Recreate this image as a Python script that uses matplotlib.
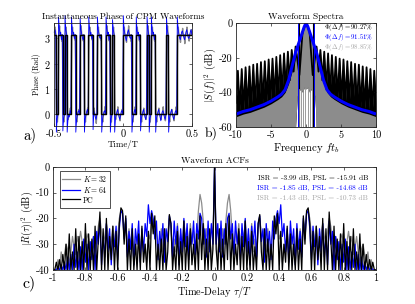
import numpy as np
import matplotlib
matplotlib.use('Agg')
import matplotlib.pyplot as plt

plt.rcParams['font.family'] = 'serif'
plt.rcParams['font.serif'] = ['cmr10', 'DejaVu Serif']
plt.rcParams['mathtext.fontset'] = 'cm'
plt.rcParams['axes.unicode_minus'] = False
plt.rcParams['axes.formatter.use_mathtext'] = True

# ---------------- a) instantaneous phase ----------------
# PC chip values (1 -> pi, 0 -> 0), 64 chips over [-T/2, T/2]
chips = [1, 0, 1, 1, 0, 1, 0, 0, 1, 1, 0, 0, 1, 1, 0, 0,
         1, 1, 0, 0, 1, 1, 0, 0, 1, 1, 0, 1, 0, 0, 0, 0,
         1, 1, 1, 1, 0, 0, 1, 1, 0, 0, 0, 1, 0, 1, 1, 0,
         0, 0, 0, 0, 1, 0, 0, 0, 0, 1, 1, 1, 1, 1, 1, 1]
# ripple of the K=32 (gray) CPM phase in each chip (rad)
gray_rip = [0.3, -0.3, 0.35, -0.25, -0.3, 0.3, -0.2, 0.25, 0.3, -0.2, -0.3, 0.2, 0.35, -0.25, -0.3, 0.25,
            0.3, -0.2, 0.25, -0.35, 0.3, -0.2, -0.3, 0.3, 0.35, -0.25, -0.3, 0.3, -0.2, 0.3, -0.25, 0.2,
            0.3, -0.3, 0.35, -0.25, -0.3, 0.3, 0.3, -0.25, -0.3, 0.25, -0.2, 0.35, -0.3, 0.3, -0.25, -0.3,
            0.25, -0.2, 0.3, -0.25, 0.35, -0.3, 0.2, -0.25, 0.3, 0.3, -0.3, 0.25, -0.35, 0.3, -0.25, 0.2]
# ripple of the K=64 (blue) CPM phase in each chip (rad)
blue_rip = [0.2, -0.15, 0.25, -0.2, -0.15, 0.2, -0.2, 0.15, 0.2, -0.15, -0.2, 0.15, 0.2, -0.2, -0.15, 0.2,
            0.25, -0.15, 0.15, -0.2, 0.2, -0.15, -0.2, 0.15, 0.25, -0.2, -0.15, 0.2, -0.15, 0.2, -0.2, 0.15,
            0.2, -0.25, 0.2, -0.15, -0.2, 0.2, 0.15, -0.2, -0.15, 0.2, -0.2, 0.25, -0.15, 0.2, -0.2, -0.15,
            0.2, -0.25, 0.15, -0.2, 0.2, -0.15, 0.2, -0.2, 0.15, 0.25, -0.2, 0.15, -0.2, 0.2, -0.15, 0.2]
# overshoot of the K=64 phase at the start of each chip (rad)
blue_ovs = [0.1, -0.7, 0.7, 0.1, -0.65, 0.75, -0.7, -0.1, 0.7, 0.1, -0.7, 0.1, 0.65, -0.1, -0.7, 0.1,
            0.7, 0.1, -0.6, -0.1, 0.7, -0.1, -0.7, 0.1, 0.7, 0.1, -0.7, 0.6, -0.7, 0.1, -0.1, 0.1,
            0.75, -0.1, 0.1, -0.1, -0.7, 0.1, 0.7, 0.1, -0.65, 0.1, -0.1, 0.7, -0.7, 0.7, 0.1, -0.7,
            0.1, -0.1, 0.1, -0.1, 0.7, -0.7, 0.1, -0.1, 0.1, 0.7, -0.1, 0.1, -0.1, 0.1, -0.1, 0.1]

# ---------------- b) spectra (positive side, mirrored) ----------------
spec_f = [0, 0.25, 0.5, 0.75, 1.0, 1.25, 1.5, 2.0, 2.5, 3.0, 3.5, 4, 5, 6, 7, 8, 9, 10]
blue_db = [0, -2, -5, -8, -11, -14, -17, -25, -33, -38.5, -41, -42.5, -45, -47, -48.5, -50, -51, -52.5]
gray_top = [0, -2.5, -6, -9.5, -13, -16.5, -20, -28, -35, -40, -42.5, -44, -46.5, -48.5, -50, -51.5, -52.5, -54]
gray_low = [-38, -37, -40, -38, -39, -42, -60, -60, -60, -60, -60, -60, -60, -60, -60, -60, -60, -60]
gray_streak_f = [-1.0, -0.75, -0.45, -0.2, 0.3, 0.6, 0.85, 1.2, 1.4]
pc_f = [0, 0.5, 0.95, 1.5, 1.78, 2.05, 2.33, 2.6, 2.88, 3.15, 3.43, 3.7, 3.98, 4.25, 4.53, 4.8, 5.08,
        5.35, 5.63, 5.9, 6.18, 6.45, 6.73, 7.0, 7.28, 7.55, 7.83, 8.1, 8.38, 8.65, 8.93, 9.2, 9.48, 9.75, 10]
pc_db = [0, -5, -30, -13.5, -28, -15.5, -33, -16.5, -38, -17.5, -41, -18.5, -42.5, -19.5, -43.5, -20.5, -44.5,
         -21, -45.5, -22, -46.5, -22.5, -47, -23.5, -48, -24, -48.5, -25, -49.5, -25.5, -50, -26.5, -50.5, -27.5, -46]
bw_pc = 0.96
bw_k64 = 1.12
phi_labels = [r'$\Phi(\Delta f) = 90.27\%$', r'$\Phi(\Delta f) = 91.51\%$', r'$\Phi(\Delta f) = 98.85\%$']

# ---------------- c) ACFs (tau >= 0, mirrored) ----------------
tau_pos = np.round(np.arange(0, 1.001, 0.01), 2)
acf_pc = [0, -32, -40, -24, -40, -28, -40, -22, -36, -19, -40, -26, -40, -30, -38, -24, -40, -27, -40, -21,
          -40, -29, -40, -25, -40, -31, -40, -22, -18.5, -33, -40, -24, -40, -28, -40, -30, -40, -19, -26, -18,
          -40, -25, -40, -30, -37, -23, -40, -26, -40, -30, -40, -24, -40, -28, -40, -19, -30, -17, -15.9, -22,
          -40, -25, -40, -23, -36, -27, -40, -20, -40, -24, -40, -17.5, -28, -40, -23, -40, -28, -40, -26, -40,
          -22, -40, -29, -40, -27, -40, -24, -40, -33, -40, -26, -40, -30, -40, -34, -40, -36, -40, -37, -40, -40]
acf_k64 = [0, -30, -22, -33, -21, -35, -24, -30, -20, -18, -28, -22, -34, -21, -30, -25, -36, -22, -31, -20,
           -33, -24, -38, -23, -30, -21, -35, -22, -19, -29, -24, -37, -22, -31, -25, -36, -21, -28, -20, -17,
           -22, -14.7, -27, -22, -33, -24, -37, -21, -30, -24, -38, -22, -32, -25, -35, -20, -28, -18, -17, -24,
           -36, -23, -31, -26, -38, -24, -33, -22, -35, -27, -38, -21, -30, -25, -40, -27, -36, -29, -40, -30,
           -37, -28, -40, -31, -40, -33, -39, -30, -40, -34, -40, -35, -40, -37, -40, -38, -40, -39, -40, -40, -40]
acf_k32 = [0, -28, -36, -26, -32, -24, -30, -21, -14, -10.7, -17, -27, -35, -25, -29, -22, -31, -24, -28, -21,
           -34, -26, -30, -22, -33, -28, -36, -24, -20, -26, -38, -27, -33, -24, -35, -29, -26, -21, -24, -19,
           -28, -26, -37, -30, -32, -25, -33, -28, -36, -27, -38, -29, -31, -24, -30, -21, -24, -18, -17, -20,
           -27, -32, -28, -23, -29, -31, -26, -22, -27, -30, -25, -20, -23, -29, -33, -27, -30, -34, -28, -26,
           -31, -36, -29, -25, -30, -27, -34, -31, -27, -33, -38, -32, -30, -34, -37, -33, -39, -36, -40, -40, -40]
acf_labels = ['ISR = -3.99 dB, PSL = -15.91 dB', 'ISR = -1.85 dB, PSL = -14.68 dB', 'ISR = -1.43 dB, PSL = -10.73 dB']

GRAY = '#8c8c8c'
LGRAY = '#a6a6a6'
BLUE = '#0000ff'


def style(ax):
    ax.tick_params(direction='in', length=2.5, width=0.5, top=True, right=True,
                   labelsize=7.5, pad=2.5, color='0.15')
    for s in ax.spines.values():
        s.set_linewidth(0.6)
        s.set_color('0.15')


def mirror(x, y):
    x = np.asarray(x, float)
    y = np.asarray(y, float)
    return np.concatenate([-x[::-1], x[1:]]), np.concatenate([y[::-1], y[1:]])


def fit_width(txt, width_px, renderer, vertical=False):
    # scale a text so that it spans about width_px pixels (as on the reference)
    bb = txt.get_window_extent(renderer)
    w = bb.height if vertical else bb.width
    if w > 0:
        txt.set_fontsize(txt.get_fontsize() * width_px / w)


fig = plt.figure(figsize=(4.15, 3.04), dpi=100)

# ---- panel a ----
axa = fig.add_axes([0.130, 0.586, 0.333, 0.338])
n = len(chips)
dt = 1.0 / n
lev = np.array(chips) * np.pi
t0 = -0.5 + np.arange(n) * dt

tp, yp = [], []
for i in range(n):
    tp += [t0[i], t0[i] + dt]
    yp += [lev[i], lev[i]]

tg, yg = [], []
for i in range(n):
    tg += [t0[i] + 0.3 * dt, t0[i] + 0.6 * dt, t0[i] + 0.85 * dt]
    yg += [lev[i], lev[i] + gray_rip[i], lev[i]]

tb, yb = [], []
for i in range(n):
    tb += [t0[i] + 0.12 * dt, t0[i] + 0.5 * dt, t0[i] + 0.88 * dt]
    yb += [lev[i] + blue_ovs[i], lev[i] + blue_rip[i], lev[i]]

axa.plot(tg, yg, color=GRAY, lw=1.0)
axa.plot(tb, yb, color=BLUE, lw=0.6, clip_on=False)
axa.plot(tp, yp, color='k', lw=1.0)
axa.set_xlim(-0.5, 0.5)
axa.set_ylim(-0.45, 3.6)
axa.set_xticks([-0.5, 0, 0.5])
axa.set_xticklabels(['-0.5', '0', '0.5'])
axa.set_yticks([0, 1, 2, 3])
axa.set_xlabel('Time/T', fontsize=8, labelpad=1)
axa.set_ylabel('Phase (Rad)', fontsize=8, labelpad=2)
ta = axa.set_title('Instantaneous Phase of CPM Waveforms', fontsize=7.5, pad=3)
style(axa)

# ---- panel b ----
axb = fig.add_axes([0.569, 0.582, 0.337, 0.342])
f_b, blue_m = mirror(spec_f, blue_db)
_, gtop_m = mirror(spec_f, gray_top)
_, glow_m = mirror(spec_f, gray_low)
f_pc, pc_m = mirror(pc_f, pc_db)

axb.fill_between(f_pc, -60, pc_m, color='k', lw=0)
axb.plot(f_pc, pc_m, color='k', lw=1.3)
axb.fill_between(f_b, -60, np.maximum(glow_m, -60), color='white', lw=0)
axb.axvline(-bw_pc, color='k', lw=0.8)
axb.axvline(bw_pc, color='k', lw=0.8)
axb.plot(f_b, blue_m, color=BLUE, lw=2.2, solid_capstyle='butt')
axb.fill_between(f_b, glow_m, gtop_m, color=GRAY, lw=0)
for fs in gray_streak_f:
    axb.plot([fs, fs], [-60, -38], color=GRAY, lw=0.6)
axb.axvline(-bw_k64, color=BLUE, lw=0.7)
axb.axvline(bw_k64, color=BLUE, lw=0.7)
axb.set_xlim(-10, 10)
axb.set_ylim(-60, 0)
axb.set_xticks([-10, -5, 0, 5, 10])
axb.set_xticklabels(['-10', '-5', '0', '5', '10'])
axb.set_yticks([-60, -40, -20, 0])
axb.set_yticklabels(['-60', '-40', '-20', '0'])
axb.set_xlabel(r'Frequency $f t_b$', fontsize=8, labelpad=1)
axb.set_ylabel(r'$|S(f)|^2$ (dB)', fontsize=8, labelpad=1)
tb_title = axb.set_title('Waveform Spectra', fontsize=7.5, pad=3)
phi_txt = []
for lab, c, yy in zip(phi_labels, ['k', BLUE, LGRAY], [0.955, 0.86, 0.765]):
    phi_txt.append(axb.text(0.975, yy, lab, transform=axb.transAxes, ha='right', va='center',
                            fontsize=5, color=c))
style(axb)

# ---- panel c ----
axc = fig.add_axes([0.128, 0.112, 0.778, 0.339])
tau, k32_m = mirror(tau_pos, acf_k32)
_, k64_m = mirror(tau_pos, acf_k64)
_, pc_acf_m = mirror(tau_pos, acf_pc)
axc.plot(tau, k32_m, color=GRAY, lw=0.9, label=r'$K = 32$')
axc.plot(tau, k64_m, color=BLUE, lw=0.9, label=r'$K = 64$')
axc.plot(tau, pc_acf_m, color='k', lw=0.9, label='PC')
axc.set_xlim(-1, 1)
axc.set_ylim(-40, 0)
xt = [-1, -0.8, -0.6, -0.4, -0.2, 0, 0.2, 0.4, 0.6, 0.8, 1]
axc.set_xticks(xt)
axc.set_xticklabels(['-1', '-0.8', '-0.6', '-0.4', '-0.2', '0', '0.2', '0.4', '0.6', '0.8', '1'])
axc.set_yticks([-40, -30, -20, -10, 0])
axc.set_yticklabels(['-40', '-30', '-20', '-10', '0'])
axc.set_xlabel(r'Time-Delay $\tau/T$', fontsize=8, labelpad=1)
axc.set_ylabel(r'$|R(\tau)|^2$ (dB)', fontsize=8, labelpad=1)
tc_title = axc.set_title('Waveform ACFs', fontsize=7.5, pad=3)
leg = axc.legend(loc='upper left', bbox_to_anchor=(0.02, 0.96), fontsize=7, frameon=True,
                 fancybox=False, edgecolor='k', handlelength=1.8, handletextpad=0.3,
                 labelspacing=0.1, borderpad=0.3, borderaxespad=0)
leg.get_frame().set_linewidth(0.6)
acf_txt = []
for lab, c, yy in zip(acf_labels, ['k', BLUE, LGRAY], [0.89, 0.795, 0.70]):
    acf_txt.append(axc.text(0.975, yy, lab, transform=axc.transAxes, ha='right', va='center',
                            fontsize=6, color=c))
style(axc)

pa = fig.text(0.072, 0.556, 'a)', fontsize=10, ha='center', va='center')
pb = fig.text(0.508, 0.560, 'b)', fontsize=9.5, ha='center', va='center')
pc = fig.text(0.070, 0.068, 'c)', fontsize=10, ha='center', va='center')

# match text sizes measured on the reference (pixels)
fig.canvas.draw()
r = fig.canvas.get_renderer()
fit_width(ta, 163, r)
fit_width(tb_title, 76, r)
fit_width(tc_title, 68, r)
for t in phi_txt:
    fit_width(t, 49, r)
for t in acf_txt:
    fit_width(t, 111, r)
fit_width(axa.xaxis.label, 31, r)
fit_width(axb.xaxis.label, 67, r)
fit_width(axc.xaxis.label, 75, r)
fit_width(axa.yaxis.label, 42, r, vertical=True)
fit_width(axb.yaxis.label, 55, r, vertical=True)
fit_width(axc.yaxis.label, 55, r, vertical=True)
for p in (pa, pb, pc):
    fit_width(p, 13, r)
# tick labels: '0.5' on panel a is about 13 px wide on the reference
w_tick = axa.get_xticklabels()[2].get_window_extent(r).width
tick_size = 7.5 * 13 / w_tick
for ax in (axa, axb, axc):
    ax.tick_params(labelsize=tick_size)
# legend: 'K = 32' about 24 px wide
w_leg = leg.get_texts()[0].get_window_extent(r).width
for t in leg.get_texts():
    t.set_fontsize(7 * 24 / w_leg)

fig.savefig('out.png', dpi=100)
